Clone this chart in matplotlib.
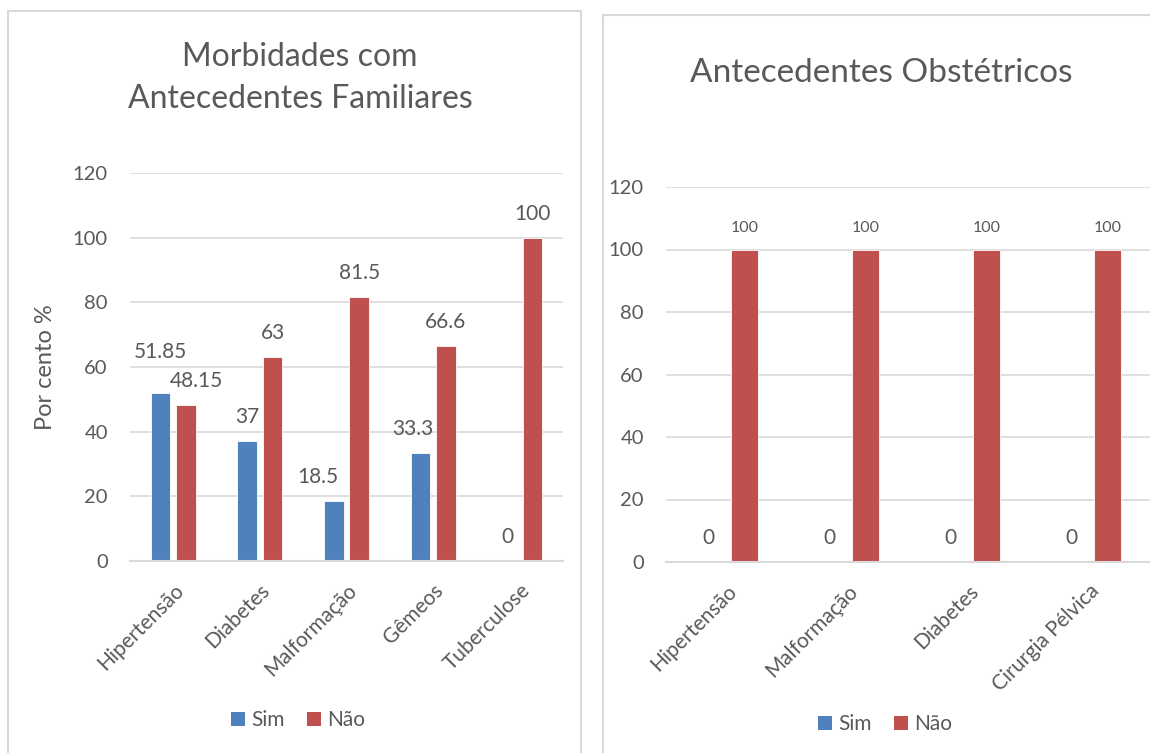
import matplotlib
matplotlib.use("Agg")
import matplotlib.pyplot as plt
from matplotlib.patches import Patch, Rectangle
from matplotlib.transforms import ScaledTranslation
import numpy as np

# ---------------------------------------------------------------------------
# Data
# ---------------------------------------------------------------------------
fam_categories = ["Hipertensão", "Diabetes", "Malformação", "Gêmeos", "Tuberculose"]
fam_sim = [51.85, 37, 18.5, 33.3, 0]
fam_nao = [48.15, 63, 81.5, 66.6, 100]

obs_categories = ["Hipertensão", "Malformação", "Diabetes", "Cirurgia Pélvica"]
obs_sim = [0, 0, 0, 0]
obs_nao = [100, 100, 100, 100]

series_names = ["Sim", "Não"]
y_ticks = [0, 20, 40, 60, 80, 100, 120]

# ---------------------------------------------------------------------------
# Style
# ---------------------------------------------------------------------------
W, H = 1150, 753
BLUE = "#4F81BD"
RED = "#C0504D"
TEXT = "#595959"
GRID = "#D9D9D9"
BAR_W = 0.225
OFFSET = 0.147

plt.rcParams["font.family"] = ["Lato", "DejaVu Sans"]

# manual nudges (px) for data labels that were moved to avoid overlaps
_FAM_NUDGE = {("sim", 0): (0, 17), ("nao", 0): (10, 0), ("sim", 2): (-16, 0), ("sim", 3): (-8, 0)}


def px_box(x0, y0, x1, y1):
    """Figure-fraction rect from pixel corners (top-left origin)."""
    return [x0 / W, 1 - y1 / H, (x1 - x0) / W, (y1 - y0) / H]


def style_axes(ax, categories):
    ax.set_ylim(0, 120)
    ax.set_xlim(-0.5, len(categories) - 0.5)
    ax.set_yticks(y_ticks)
    ax.grid(axis="y", color=GRID, linewidth=1.2)
    ax.set_axisbelow(True)
    for name, sp in ax.spines.items():
        sp.set_visible(name == "bottom")
    ax.spines["bottom"].set_color(GRID)
    ax.spines["bottom"].set_linewidth(1.5)
    ax.tick_params(axis="y", length=0, pad=16, labelsize=14.5, labelcolor=TEXT)
    ax.tick_params(axis="x", length=0, pad=10, labelsize=15, labelcolor=TEXT)
    ax.set_xticks(np.arange(len(categories)))
    ax.set_xticklabels(categories, rotation=45, ha="right", va="center",
                       rotation_mode="anchor")
    shift = ScaledTranslation(7 / 100, -12 / 100, fig.dpi_scale_trans)
    for lab in ax.get_xticklabels():
        lab.set_transform(lab.get_transform() + shift)


def draw_bars(ax, sim, nao, sim_size, nao_size, nudge):
    x = np.arange(len(sim))
    b1 = ax.bar(x - OFFSET, sim, BAR_W, color=BLUE, edgecolor="white", linewidth=0.6)
    b2 = ax.bar(x + OFFSET, nao, BAR_W, color=RED, edgecolor="white", linewidth=0.6)
    for key, bars, vals, size in (("sim", b1, sim, sim_size), ("nao", b2, nao, nao_size)):
        for i, (bar, v) in enumerate(zip(bars, vals)):
            dx, dy = nudge.get((key, i), (0, 0))
            ax.annotate(f"{v:g}", (bar.get_x() + bar.get_width() / 2, v),
                        xytext=(dx * 0.72, (18 + dy) * 0.72), textcoords="offset points",
                        ha="center", va="baseline", fontsize=size, color=TEXT)


fig = plt.figure(figsize=(W / 100, H / 100), dpi=100)

# chart frames
fig.add_artist(Rectangle((8 / W, -0.02), (581 - 8) / W, 1 - 11 / H + 0.02,
                         transform=fig.transFigure, fill=False, edgecolor=GRID, linewidth=1.5))
fig.add_artist(Rectangle((603 / W, -0.02), 0.5, 1 - 15 / H + 0.02,
                         transform=fig.transFigure, fill=False, edgecolor=GRID, linewidth=1.5))

# left chart: family history
ax1 = fig.add_axes(px_box(130, 173, 563, 561))
draw_bars(ax1, fam_sim, fam_nao, 15, 15, _FAM_NUDGE)
style_axes(ax1, fam_categories)
ax1.set_ylabel("Por cento %", fontsize=17, color=TEXT)
ax1.yaxis.set_label_coords(-0.17, 0.5)
fig.text(300 / W, 1 - 78 / H, "Morbidades com\nAntecedentes Familiares",
         ha="center", va="center", fontsize=23, color=TEXT, linespacing=1.5)

# right chart: obstetric history
ax2 = fig.add_axes(px_box(666, 187, 1150, 562))
draw_bars(ax2, obs_sim, obs_nao, 15, 11.5, {})
style_axes(ax2, obs_categories)
fig.text(881 / W, 1 - 73 / H, "Antecedentes Obstétricos",
         ha="center", va="center", fontsize=24, color=TEXT)

handles = [Patch(facecolor=BLUE), Patch(facecolor=RED)]
for cx, cy in ((298, 720), (885, 724)):
    fig.legend(handles, series_names, loc="center", bbox_to_anchor=(cx / W, 1 - cy / H),
               ncol=2, frameon=False, fontsize=15, labelcolor=TEXT,
               handlelength=0.65, handleheight=0.65, handletextpad=0.3, columnspacing=1.1)

fig.savefig("out.png", dpi=100)
